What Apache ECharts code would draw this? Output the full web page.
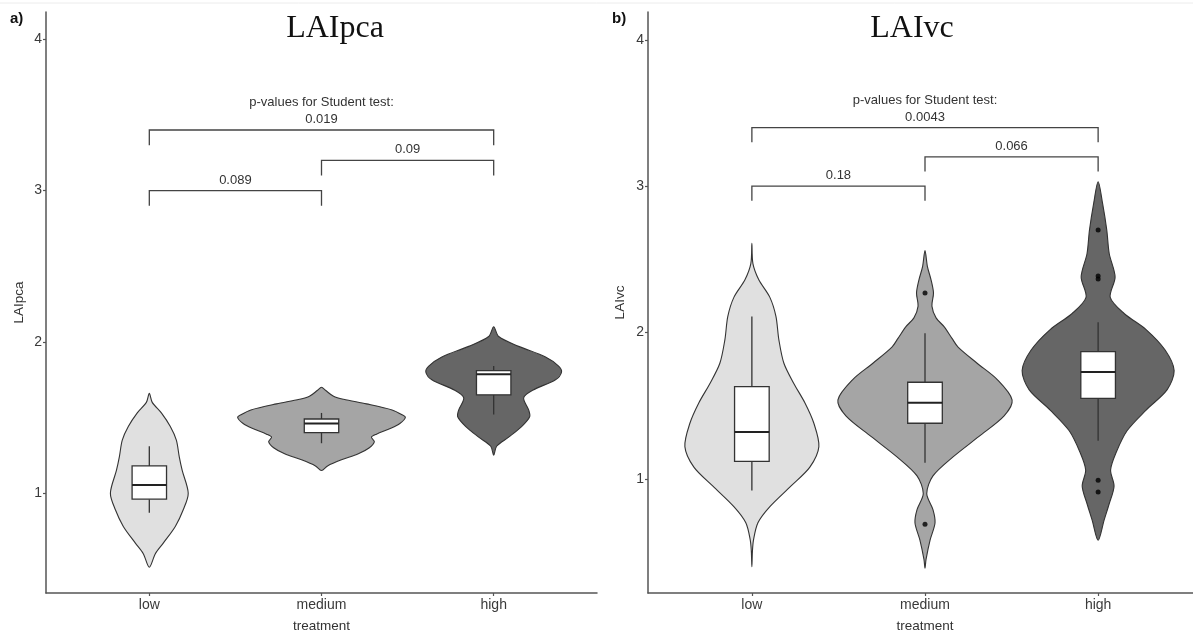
<!DOCTYPE html>
<html>
<head>
<meta charset="utf-8">
<script src="https://cdn.jsdelivr.net/npm/echarts@6/dist/echarts.min.js"></script>
<style>
  html, body { margin: 0; padding: 0; background: #fff; }
  #main { width: 1193px; height: 633px; }
</style>
</head>
<body>
<div id="main"></div>
<script>
// ---------------- data ----------------
const categories = ['low', 'medium', 'high'];
const yTicks = [1, 2, 3, 4];
const panelTitles = ['LAIpca', 'LAIvc'];
const panelTags = ['a)', 'b)'];
const xAxisName = 'treatment';
const pHeader = 'p-values for Student test:';

// violin outlines: value (y) and half-width (in category units)
const pcaLowY  = [0.51, 0.60, 0.67, 0.78, 0.89, 1.00, 1.15, 1.24, 1.35, 1.44, 1.53, 1.60, 1.66];
const pcaLowW  = [0, 0.035, 0.081, 0.151, 0.197, 0.226, 0.191, 0.174, 0.157, 0.122, 0.070, 0.017, 0];
const pcaMedY  = [1.15, 1.18, 1.22, 1.26, 1.30, 1.34, 1.37, 1.39, 1.43, 1.46, 1.50, 1.52, 1.55, 1.59, 1.62, 1.64, 1.68, 1.70];
const pcaMedW  = [0, 0.035, 0.116, 0.214, 0.278, 0.307, 0.290, 0.319, 0.406, 0.455, 0.487, 0.465, 0.410, 0.261, 0.128, 0.070, 0.023, 0];
const pcaHighY = [1.25, 1.31, 1.37, 1.44, 1.505, 1.55, 1.63, 1.68, 1.75, 1.80, 1.84, 1.90, 1.97, 2.035, 2.10];
const pcaHighW = [0, 0.017, 0.087, 0.162, 0.209, 0.203, 0.174, 0.226, 0.359, 0.394, 0.377, 0.301, 0.145, 0.029, 0];

const vcLowY  = [0.40, 0.50, 0.58, 0.70, 0.81, 0.95, 1.08, 1.22, 1.38, 1.52, 1.65, 1.79, 1.95, 2.11, 2.24, 2.36, 2.47, 2.61];
const vcLowW  = [0, 0.003, 0.009, 0.035, 0.104, 0.225, 0.335, 0.387, 0.358, 0.306, 0.243, 0.185, 0.156, 0.139, 0.104, 0.040, 0.006, 0];
const vcMedY  = [0.39, 0.45, 0.58, 0.70, 0.79, 0.90, 1.02, 1.15, 1.29, 1.43, 1.54, 1.68, 1.79, 1.90, 1.96, 2.04, 2.10, 2.18, 2.27, 2.36, 2.45, 2.56];
const vcMedW  = [0, 0.006, 0.029, 0.058, 0.046, 0.010, 0.046, 0.162, 0.312, 0.457, 0.503, 0.416, 0.301, 0.191, 0.156, 0.110, 0.064, 0.040, 0.049, 0.035, 0.014, 0];
const vcHighY = [0.58, 0.72, 0.83, 0.95, 1.06, 1.18, 1.33, 1.47, 1.61, 1.74, 1.88, 2.02, 2.13, 2.24, 2.38, 2.54, 2.70, 2.88, 3.03];
const vcHighW = [0, 0.035, 0.064, 0.092, 0.072, 0.104, 0.168, 0.277, 0.399, 0.439, 0.387, 0.277, 0.150, 0.070, 0.098, 0.064, 0.050, 0.026, 0];

// box stats: [category position, lower whisker, Q1, median, Q3, upper whisker]
const pcaBoxStats = [
  [1, 0.87, 0.96, 1.053, 1.18, 1.31],
  [2, 1.33, 1.40, 1.46, 1.49, 1.53],
  [3, 1.52, 1.65, 1.786, 1.81, 1.84]
];
const vcBoxStats = [
  [1, 0.92, 1.12, 1.32, 1.63, 2.11],
  [2, 1.11, 1.38, 1.52, 1.66, 1.995],
  [3, 1.26, 1.55, 1.73, 1.87, 2.07]
];
const pcaOutliers = [];
const vcOutliers = [[2, 2.27], [2, 0.69], [3, 2.70], [3, 2.386], [3, 2.365], [3, 0.99], [3, 0.91]];

// brackets: [from category, to category, height]
const pcaBrackets = [[1, 2, 3.0], [2, 3, 3.2], [1, 3, 3.4]];
const pcaPValues = ['0.089', '0.09', '0.019'];
const vcBrackets = [[1, 2, 3.0], [2, 3, 3.2], [1, 3, 3.4]];
const vcPValues = ['0.18', '0.066', '0.0043'];
const bracketDrop = 0.1;

const violinFills = ['#e0e0e0', '#a5a5a5', '#666666'];

// ---------------- chart ----------------
const chart = echarts.init(document.getElementById('main'));
const FONT = 'Liberation Sans, Arial, sans-serif';

function violinSeries(ys, ws, idx) {
  return {
    type: 'custom',
    xAxisIndex: idx, yAxisIndex: idx,
    z: 1, silent: true,
    data: ys.map((y, i) => [i + 1, Math.min(...y), Math.max(...y)]),
    renderItem: function (params, api) {
      const y = ys[params.dataIndex], w = ws[params.dataIndex];
      const cx = api.value(0);
      const pts = [];
      for (let i = 0; i < y.length; i++) pts.push(api.coord([cx + w[i], y[i]]));
      for (let i = y.length - 2; i >= 1; i--) pts.push(api.coord([cx - w[i], y[i]]));
      return {
        type: 'polygon',
        shape: { points: pts, smooth: 0.3 },
        style: { fill: violinFills[params.dataIndex], stroke: '#333', lineWidth: 1.1 }
      };
    }
  };
}

function boxSeries(stats, idx) {
  return {
    type: 'custom',
    xAxisIndex: idx, yAxisIndex: idx,
    z: 2, silent: true,
    data: stats,
    renderItem: function (params, api) {
      const cx = api.value(0), lo = api.value(1), q1 = api.value(2), med = api.value(3), q3 = api.value(4), hi = api.value(5);
      const half = 0.1;
      const pLo = api.coord([cx, lo]), pQ1 = api.coord([cx, q1]), pQ3 = api.coord([cx, q3]), pHi = api.coord([cx, hi]);
      const tl = api.coord([cx - half, q3]), br = api.coord([cx + half, q1]);
      const ml = api.coord([cx - half, med]), mr = api.coord([cx + half, med]);
      const ls = { stroke: '#333', lineWidth: 1.3 };
      return {
        type: 'group',
        children: [
          { type: 'line', shape: { x1: pLo[0], y1: pLo[1], x2: pQ1[0], y2: pQ1[1] }, style: ls },
          { type: 'line', shape: { x1: pQ3[0], y1: pQ3[1], x2: pHi[0], y2: pHi[1] }, style: ls },
          { type: 'rect', shape: { x: tl[0], y: tl[1], width: br[0] - tl[0], height: br[1] - tl[1] }, style: { fill: '#fff', stroke: '#333', lineWidth: 1.3 } },
          { type: 'line', shape: { x1: ml[0], y1: ml[1], x2: mr[0], y2: mr[1] }, style: { stroke: '#222', lineWidth: 2 } }
        ]
      };
    }
  };
}

function bracketSeries(brackets, labels, idx) {
  return {
    type: 'custom',
    xAxisIndex: idx, yAxisIndex: idx,
    z: 3, silent: true,
    data: brackets,
    renderItem: function (params, api) {
      const x1 = api.value(0), x2 = api.value(1), h = api.value(2);
      const a = api.coord([x1, h - bracketDrop]), b = api.coord([x1, h]), c = api.coord([x2, h]), d = api.coord([x2, h - bracketDrop]);
      let label = labels[params.dataIndex];
      if (params.dataIndex === brackets.length - 1) label = pHeader + '\n' + label;
      return {
        type: 'group',
        children: [
          { type: 'polyline', shape: { points: [a, b, c, d] }, style: { stroke: '#444', lineWidth: 1.3, fill: null } },
          { type: 'text', x: (b[0] + c[0]) / 2, y: b[1] - 2,
            style: { text: label, textAlign: 'center', textVerticalAlign: 'bottom', fill: '#333', font: '13px ' + FONT, lineHeight: 17 } }
        ]
      };
    }
  };
}

function xAxis(idx) {
  return {
    gridIndex: idx, type: 'value', min: 0.4, max: 3.6,
    axisLine: { show: true, onZero: false, lineStyle: { color: '#555', width: 1.5 } },
    axisTick: { show: true, customValues: [1, 2, 3], length: 3, lineStyle: { color: '#555', width: 1.2 } },
    axisLabel: { customValues: [1, 2, 3], formatter: v => categories[Math.round(v) - 1], color: '#3a3a3a', fontSize: 14, fontFamily: FONT, margin: 5 },
    splitLine: { show: false },
    name: xAxisName, nameLocation: 'middle', nameGap: 26,
    nameTextStyle: { color: '#333', fontSize: 13.5, fontFamily: FONT }
  };
}

function yAxis(idx, min, max, name, gap) {
  return {
    gridIndex: idx, type: 'value', min: min, max: max,
    axisLine: { show: true, onZero: false, lineStyle: { color: '#555', width: 1.5 } },
    axisTick: { show: true, customValues: yTicks, length: 3, lineStyle: { color: '#555', width: 1.2 } },
    axisLabel: { customValues: yTicks, color: '#3a3a3a', fontSize: 14, fontFamily: FONT, margin: 4 },
    splitLine: { show: false },
    name: name, nameLocation: 'middle', nameGap: gap,
    nameTextStyle: { color: '#333', fontSize: 13.5, fontFamily: FONT }
  };
}

const option = {
  animation: false,
  backgroundColor: '#fff',
  textStyle: { fontFamily: FONT },
  grid: [
    { left: 46, top: 12, width: 551, height: 581, outerBoundsMode: 'none' },
    { left: 648, top: 12, width: 554, height: 581, outerBoundsMode: 'none' }
  ],
  xAxis: [xAxis(0), xAxis(1)],
  yAxis: [yAxis(0, 0.34, 4.18, panelTitles[0], 20), yAxis(1, 0.22, 4.19, panelTitles[1], 21)],
  graphic: [
    { type: 'line', shape: { x1: 0, y1: 3, x2: 1193, y2: 3 }, style: { stroke: '#ececec', lineWidth: 1 } },
    { type: 'text', x: 335, y: 29, style: { text: panelTitles[0], textAlign: 'center', textVerticalAlign: 'middle', font: '32px "Liberation Serif", serif', fill: '#111' } },
    { type: 'text', x: 912, y: 29, style: { text: panelTitles[1], textAlign: 'center', textVerticalAlign: 'middle', font: '32px "Liberation Serif", serif', fill: '#111' } },
    { type: 'text', x: 10, y: 19, style: { text: panelTags[0], textVerticalAlign: 'middle', font: 'bold 15px ' + FONT, fill: '#111' } },
    { type: 'text', x: 612, y: 19, style: { text: panelTags[1], textVerticalAlign: 'middle', font: 'bold 15px ' + FONT, fill: '#111' } }
  ],
  series: [
    violinSeries([pcaLowY, pcaMedY, pcaHighY], [pcaLowW, pcaMedW, pcaHighW], 0),
    boxSeries(pcaBoxStats, 0),
    { type: 'scatter', xAxisIndex: 0, yAxisIndex: 0, data: pcaOutliers, symbolSize: 5, itemStyle: { color: '#000' }, z: 4, silent: true },
    bracketSeries(pcaBrackets, pcaPValues, 0),
    violinSeries([vcLowY, vcMedY, vcHighY], [vcLowW, vcMedW, vcHighW], 1),
    boxSeries(vcBoxStats, 1),
    { type: 'scatter', xAxisIndex: 1, yAxisIndex: 1, data: vcOutliers, symbolSize: 5, itemStyle: { color: '#000' }, z: 4, silent: true },
    bracketSeries(vcBrackets, vcPValues, 1)
  ]
};
chart.setOption(option);
</script>
</body>
</html>
